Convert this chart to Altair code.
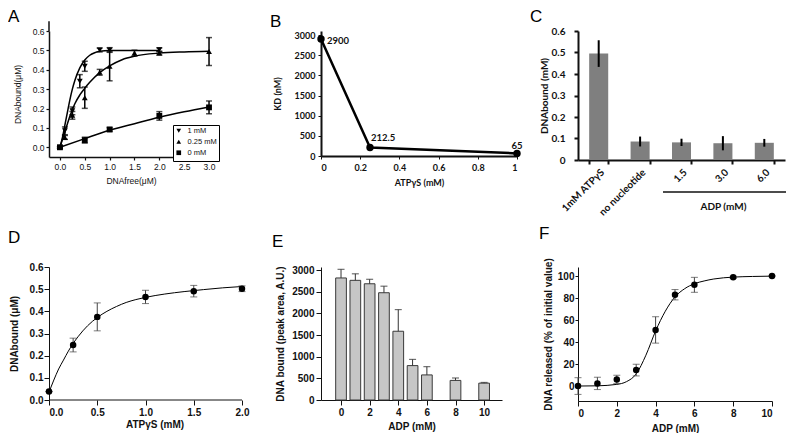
import altair as alt
import pandas as pd

# ---------------- Panel A: DNA bound vs DNA free (three ATPgS levels) ----------------
A_series = ["1 mM", "0.25 mM", "0 mM"]
A_x_1 = [0, 0.1, 0.25, 0.4, 0.5, 0.8, 1.0, 2.0]
A_y_1 = [0, 0.085, 0.188, 0.341, 0.418, 0.502, 0.502, 0.503]
A_e_1 = [0.005, 0.02, 0.02, 0.034, 0.026, 0.01, 0.012, 0.01]
A_x_2 = [0, 0.1, 0.25, 0.5, 0.8, 1.0, 1.5, 2.0, 3.0]
A_y_2 = [0, 0.051, 0.165, 0.256, 0.387, 0.418, 0.486, 0.486, 0.494]
A_e_2 = [0.005, 0.01, 0.02, 0.055, 0.015, 0.075, 0.015, 0.01, 0.072]
A_x_3 = [0, 0.5, 1.0, 2.0, 3.0]
A_y_3 = [0, 0.037, 0.092, 0.162, 0.206]
A_e_3 = [0.005, 0.015, 0.01, 0.022, 0.033]
# fitted curves
A_fx_1 = [0, 0.05, 0.1, 0.15, 0.2, 0.25, 0.3, 0.4, 0.5, 0.6, 0.7, 0.8, 1.0, 1.5, 2.0]
A_fy_1 = [0, 0.05, 0.115, 0.18, 0.245, 0.3, 0.345, 0.41, 0.45, 0.475, 0.488, 0.495, 0.5, 0.5, 0.5]
A_fx_2 = [0, 0.05, 0.1, 0.2, 0.3, 0.4, 0.5, 0.6, 0.8, 1.0, 1.25, 1.5, 2.0, 2.5, 3.0]
A_fy_2 = [0, 0.04, 0.08, 0.16, 0.225, 0.27, 0.305, 0.335, 0.385, 0.42, 0.452, 0.47, 0.486, 0.492, 0.495]
A_fx_3 = [0, 0.5, 1.0, 1.5, 2.0, 2.5, 3.0]
A_fy_3 = [0, 0.045, 0.088, 0.122, 0.155, 0.183, 0.208]
A_axis_top = [0.6, 0.65]   # the y axis line of panel A runs a little past its last tick

# ---------------- Panel B: KD vs ATPgS ----------------
B_x = [0, 0.25, 1]
B_y = [2900, 212.5, 65]

# ---------------- Panel C: DNA bound per condition ----------------
C_cats = ["1mM ATPγS", "no nucleotide", "1.5", "3.0", "6.0"]
C_vals = [0.495, 0.086, 0.082, 0.078, 0.080]
C_errs = [0.062, 0.023, 0.017, 0.033, 0.018]

# ---------------- Panel D: DNA bound vs ATPgS ----------------
D_x = [0, 0.25, 0.5, 1.0, 1.5, 2.0]
D_y = [0.038, 0.248, 0.375, 0.465, 0.491, 0.502]
D_e = [0.0, 0.031, 0.063, 0.03, 0.026, 0.013]
D_fx = [0, 0.05, 0.1, 0.15, 0.2, 0.25, 0.3, 0.4, 0.5, 0.6, 0.7, 0.8, 0.9, 1.0, 1.2, 1.4, 1.6, 1.8, 2.0]
D_fy = [0.035, 0.09, 0.14, 0.18, 0.22, 0.255, 0.285, 0.335, 0.372, 0.400, 0.422, 0.440, 0.453,
        0.463, 0.478, 0.489, 0.498, 0.506, 0.512]

# ---------------- Panel E: DNA bound vs ADP (bars) ----------------
E_x = [0, 1, 2, 3, 4, 5, 6, 8, 10]
E_y = [2817, 2762, 2683, 2476, 1587, 794, 579, 452, 389]
E_e = [199, 151, 103, 151, 500, 143, 191, 56, 16]

# ---------------- Panel F: DNA released vs ADP ----------------
F_x = [0, 1, 2, 3, 4, 5, 6, 8, 10]
F_y = [0, 2.4, 6, 14.5, 51, 83, 92, 98.8, 100]
F_e = [7.6, 5.6, 3.8, 5.3, 12, 4.7, 6.8, 1.0, 0.5]
F_fx = [0, 1, 2, 2.5, 3, 3.5, 4, 4.5, 5, 5.5, 6, 6.5, 7, 8, 9, 10]
F_fy = [0, 0.2, 1.5, 4, 11, 28, 50, 68, 81, 88.5, 93, 95.5, 97.3, 99, 99.6, 99.9]

# ====================================================================
INK = "#111111"


def ax(font, size, weight, **kw):
    base = dict(labelFont=font, titleFont=font, labelFontSize=size, titleFontSize=size,
                labelFontWeight=weight, titleFontWeight=weight, labelColor=INK,
                titleColor=INK, domainColor=INK, tickColor=INK, grid=False, labelOverlap=False)
    base.update(kw)
    return alt.Axis(**base)


def letter(t, dx, dy):
    return alt.TitleParams(text=t, anchor="start", frame="group", dx=dx, dy=dy, offset=0,
                           fontSize=17, font="Liberation Sans", fontWeight="normal",
                           color="black", baseline="alphabetic")


def frame(xs, ys, es=None, series=None):
    d = pd.DataFrame({"x": xs, "y": ys})
    if es is not None:
        d["lo"] = [a - b for a, b in zip(ys, es)]
        d["hi"] = [a + b for a, b in zip(ys, es)]
    if series is not None:
        d["series"] = series
    return d


ONE = pd.DataFrame({"k": [0]})

# ---------------- Panel A ----------------
FA = "Liberation Sans"
dA = pd.concat([frame(A_x_1, A_y_1, A_e_1, A_series[0]),
                frame(A_x_2, A_y_2, A_e_2, A_series[1]),
                frame(A_x_3, A_y_3, A_e_3, A_series[2])])
fA = pd.concat([frame(A_fx_1, A_fy_1, series=A_series[0]),
                frame(A_fx_2, A_fy_2, series=A_series[1]),
                frame(A_fx_3, A_fy_3, series=A_series[2])])
A_xmin = -0.22
scAx = alt.Scale(domain=[A_xmin, 3.08], nice=False, zero=False)
scAy = alt.Scale(domain=[-0.05, 0.6], nice=False, zero=False)
axAx = ax(FA, 8.5, "normal", values=[0, 0.5, 1, 1.5, 2, 2.5, 3], format=".1f",
          title="DNAfree(μM)", tickSize=3, labelPadding=2, titlePadding=6, domainWidth=1.5,
          tickWidth=1.2)
axAy = ax(FA, 8.5, "normal", values=[0, 0.1, 0.2, 0.3, 0.4, 0.5, 0.6], format=".1f",
          title="DNAbound(μM)", tickSize=3, labelPadding=2, titlePadding=10, domainWidth=1.5,
          tickWidth=1.2)


def XA(f="x"):
    return alt.X(f + ":Q", scale=scAx, axis=axAx)


def YA(f="y"):
    return alt.Y(f + ":Q", scale=scAy, axis=axAy)


A_axisext = alt.Chart(ONE).mark_rule(color=INK, strokeWidth=1.5).encode(
    x=alt.XDatum(A_xmin, scale=scAx, axis=axAx),
    y=alt.YDatum(A_axis_top[0], scale=scAy, axis=axAy),
    y2=alt.Y2Datum(A_axis_top[1]))
A_curve = alt.Chart(fA).mark_line(color="black", strokeWidth=1.5, interpolate="monotone").encode(
    x=XA(), y=YA(), detail="series:N")
A_err = alt.Chart(dA).mark_rule(color="black", strokeWidth=1.5).encode(x=XA(), y=YA("lo"), y2="hi:Q")
A_cap1 = alt.Chart(dA).mark_tick(color="black", orient="horizontal", size=6, thickness=1.5).encode(
    x=XA(), y=YA("lo"))
A_cap2 = alt.Chart(dA).mark_tick(color="black", orient="horizontal", size=6, thickness=1.5).encode(
    x=XA(), y=YA("hi"))
A_pts = alt.Chart(dA).mark_point(filled=True, color="black", size=34, opacity=1).encode(
    x=XA(), y=YA(),
    shape=alt.Shape("series:N",
                    scale=alt.Scale(domain=A_series, range=["triangle-down", "triangle-up", "square"]),
                    legend=alt.Legend(title=None, orient="none", legendX=124, legendY=94,
                                      strokeColor="black", padding=2, labelFont=FA, labelFontSize=7.5,
                                      labelColor=INK, symbolSize=22, symbolFillColor="black",
                                      symbolStrokeColor="black", rowPadding=0, labelOffset=5,
                                      cornerRadius=0, labelLimit=60, fillColor="white")))
panelA = alt.layer(A_axisext, A_curve, A_err, A_cap1, A_cap2, A_pts).properties(
    width=164, height=126, title=letter("A", -41, 18.7))

# ---------------- Panel B ----------------
FB = "Lato"
dB = frame(B_x, B_y)
dB["i"] = list(range(len(B_x)))
scBx = alt.Scale(domain=[0, 1], nice=False)
scBy = alt.Scale(domain=[0, 3100], nice=False)
XB = alt.X("x:Q", scale=scBx, axis=ax(FB, 9, "bold", values=[0, 0.2, 0.4, 0.6, 0.8, 1], format="~g",
                                      title="ATPγS (mM)", tickSize=3, labelPadding=4, titlePadding=6,
                                      domainWidth=2))
YB = alt.Y("y:Q", scale=scBy, axis=ax(FB, 9, "bold", values=[0, 500, 1000, 1500, 2000, 2500, 3000],
                                      format="d", title="KD (nM)", tickSize=3, labelPadding=3,
                                      titlePadding=12, domainWidth=2))
B_line = alt.Chart(dB).mark_line(color="black", strokeWidth=2.5).encode(x=XB, y=YB)
B_pts = alt.Chart(dB).mark_circle(color="black", size=55, opacity=1).encode(x=XB, y=YB)


def B_text(i, dx, dy, align):
    return alt.Chart(dB).transform_filter(alt.datum.i == i).mark_text(
        font=FB, fontSize=9.5, fontWeight="bold", color=INK, dx=dx, dy=dy, align=align,
        baseline="middle").encode(x=XB, y=YB, text=alt.Text("y:Q", format="~g"))


panelB = alt.layer(B_line, B_pts, B_text(0, 6, 2, "left"), B_text(1, 1, -9, "left"),
                   B_text(2, 0, -7, "center")).properties(
    width=196, height=125, title=letter("B", -51, 13))

# ---------------- Panel C ----------------
FC = "Lato"
dC = pd.DataFrame({"cat": C_cats, "v": C_vals,
                   "lo": [a - b for a, b in zip(C_vals, C_errs)],
                   "hi": [a + b for a, b in zip(C_vals, C_errs)]})
scCx = alt.Scale(domain=C_cats, paddingInner=0.54, paddingOuter=0.27)
scCy = alt.Scale(domain=[0, 0.6], nice=False)
axCx = ax(FC, 10, "bold", labelAngle=-45, labelAlign="right", labelBaseline="top", tickSize=4,
          tickBand="extent", labelPadding=3, domainWidth=2, tickWidth=2,
          title="ADP (mM)", titleX=145, titleY=46, titleAlign="center", titleBaseline="middle")
axCy = ax(FC, 10, "bold", values=[0, 0.1, 0.2, 0.3, 0.4, 0.5, 0.6], format="~g",
          title="DNAbound (mM)", tickSize=4, labelPadding=9, titlePadding=2, domainWidth=2, tickWidth=2)
XC = alt.X("cat:N", scale=scCx, axis=axCx, sort=C_cats)


def YC(f):
    return alt.Y(f + ":Q", scale=scCy, axis=axCy)


C_bar = alt.Chart(dC).mark_bar(color="#7f7f7f").encode(x=XC, y=YC("v"))
C_err = alt.Chart(dC).mark_rule(color="black", strokeWidth=2).encode(x=XC, y=YC("lo"), y2="hi:Q")
C_line = alt.Chart(ONE).mark_rule(color=INK, strokeWidth=1.5).encode(
    x=alt.value(85), x2=alt.value(208), y=alt.value(161))
panelC = alt.layer(C_bar, C_err, C_line).properties(
    width=207, height=129, title=letter("C", -48, 13))

# ---------------- Panel D ----------------
FD = "Liberation Sans"
dD = frame(D_x, D_y, D_e)
fD = frame(D_fx, D_fy)
scDx = alt.Scale(domain=[0, 2.1865], nice=False, zero=False)
scDy = alt.Scale(domain=[0, 0.6], nice=False)
axDx = ax(FD, 10, "bold", values=[0, 0.5, 1, 1.5, 2], format=".1f", title="ATPγS (mM)",
          domain=False, tickSize=5, labelPadding=2, titlePadding=2)
axDy = ax(FD, 10, "bold", values=[0, 0.1, 0.2, 0.3, 0.4, 0.5, 0.6], format=".1f",
          title="DNAbound (μM)", tickSize=5, labelPadding=1, titlePadding=10)


def XD(f="x"):
    return alt.X(f + ":Q", scale=scDx, axis=axDx)


def YD(f="y"):
    return alt.Y(f + ":Q", scale=scDy, axis=axDy)


D_axisline = alt.Chart(ONE).mark_rule(color=INK, strokeWidth=1).encode(
    x=alt.XDatum(D_x[0], scale=scDx, axis=axDx), x2=alt.X2Datum(D_x[-1]),
    y=alt.YDatum(0, scale=scDy, axis=axDy))
D_curve = alt.Chart(fD).mark_line(color="black", strokeWidth=1, interpolate="monotone").encode(
    x=XD(), y=YD())
D_err = alt.Chart(dD).mark_rule(color="#444444", strokeWidth=1).encode(x=XD(), y=YD("lo"), y2="hi:Q")
D_cap1 = alt.Chart(dD).mark_tick(color="#444444", orient="horizontal", size=7, thickness=1).encode(
    x=XD(), y=YD("lo"))
D_cap2 = alt.Chart(dD).mark_tick(color="#444444", orient="horizontal", size=7, thickness=1).encode(
    x=XD(), y=YD("hi"))
D_pts = alt.Chart(dD).mark_circle(color="black", size=42, opacity=1).encode(x=XD(), y=YD())
panelD = alt.layer(D_axisline, D_curve, D_err, D_cap1, D_cap2, D_pts).properties(
    width=211, height=133, title=letter("D", -41, -2))

# ---------------- Panel E ----------------
FE = "Liberation Sans"
dE = frame(E_x, E_y, E_e)
scEx = alt.Scale(domain=[-1.05, 10.9], nice=False, zero=False)
scEy = alt.Scale(domain=[0, 3070], nice=False)
axEx = ax(FE, 10, "bold", values=[0, 2, 4, 6, 8, 10], title="ADP (mM)", tickSize=5,
          labelPadding=2, titlePadding=4)
axEy = ax(FE, 10, "bold", values=[0, 500, 1000, 1500, 2000, 2500, 3000], format="d",
          title="DNA bound (peak area, A.U.)", tickSize=5, labelPadding=2, titlePadding=6)


def XE(f="x"):
    return alt.X(f + ":Q", scale=scEx, axis=axEx)


def YE(f="y"):
    return alt.Y(f + ":Q", scale=scEy, axis=axEy)


E_bar = alt.Chart(dE).mark_bar(size=10.7, fill="#c6c6c6", stroke="#3a3a3a", strokeWidth=1).encode(
    x=XE(), y=YE())
E_err = alt.Chart(dE).mark_rule(color="#333333", strokeWidth=1).encode(x=XE(), y=YE(), y2="hi:Q")
E_cap = alt.Chart(dE).mark_tick(color="#333333", orient="horizontal", size=7, thickness=1.2).encode(
    x=XE(), y=YE("hi"))
panelE = alt.layer(E_bar, E_err, E_cap).properties(
    width=181, height=133, title=letter("E", -49, -1))

# ---------------- Panel F ----------------
FF = "Liberation Sans"
dF = frame(F_x, F_y, F_e)
fF = frame(F_fx, F_fy)
scFx = alt.Scale(domain=[0, 10], nice=False)
scFy = alt.Scale(domain=[-13.6, 108.2], nice=False, zero=False)
axFx = ax(FF, 10, "bold", values=[0, 2, 4, 6, 8, 10], title="ADP (mM)", tickSize=5,
          labelPadding=2, titlePadding=5)
axFy = ax(FF, 10, "bold", values=[0, 20, 40, 60, 80, 100], title="DNA released (% of initial value)",
          tickSize=3, labelPadding=1, titlePadding=4)


def XF(f="x"):
    return alt.X(f + ":Q", scale=scFx, axis=axFx)


def YF(f="y"):
    return alt.Y(f + ":Q", scale=scFy, axis=axFy)


F_curve = alt.Chart(fF).mark_line(color="black", strokeWidth=1, interpolate="monotone").encode(
    x=XF(), y=YF())
F_err = alt.Chart(dF).mark_rule(color="#444444", strokeWidth=1).encode(x=XF(), y=YF("lo"), y2="hi:Q")
F_cap1 = alt.Chart(dF).mark_tick(color="#444444", orient="horizontal", size=7, thickness=1).encode(
    x=XF(), y=YF("lo"))
F_cap2 = alt.Chart(dF).mark_tick(color="#444444", orient="horizontal", size=7, thickness=1).encode(
    x=XF(), y=YF("hi"))
F_pts = alt.Chart(dF).mark_circle(color="black", size=42, opacity=1).encode(x=XF(), y=YF())
panelF = alt.layer(F_curve, F_err, F_cap1, F_cap2, F_pts).properties(
    width=194, height=134, title=letter("F", -39, -2))

# ---------------- assemble ----------------
chart = alt.concat(panelA, panelB, panelC, panelD, panelE, panelF, columns=3,
                   spacing={"row": 107, "column": 61}, bounds="flush", align="none").properties(
    padding={"left": 0, "top": 0, "right": 0, "bottom": 0},
    background="white",
).configure_view(stroke=None).resolve_scale(shape="independent")

chart.save("out.html", embed_options={"renderer": "svg", "actions": False})
